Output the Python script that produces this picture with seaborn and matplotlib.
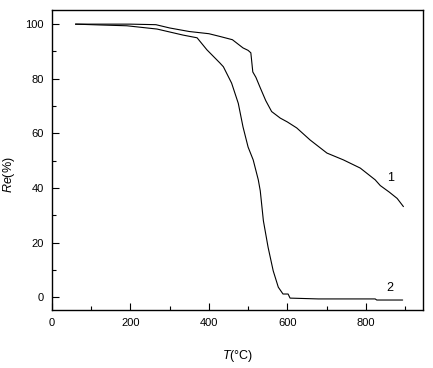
import numpy as np
import pandas as pd
import matplotlib
matplotlib.use("Agg")
import matplotlib.pyplot as plt
import seaborn as sns
from matplotlib.ticker import MultipleLocator

# Curve 1
t1 = [60, 100, 150, 200, 265, 300, 350, 400, 428, 460, 487, 500, 507, 512, 520, 531, 545, 560, 582, 600,
      624, 658, 701, 743, 786, 824, 837, 860, 880, 896]
r1 = [100, 100, 100, 100, 99.8, 98.6, 97.3, 96.5, 95.5, 94.3, 91.3, 90.4, 89.5, 82.5, 80.5, 76.7, 72.0, 68.0,
      65.6, 64.2, 62.0, 57.6, 52.8, 50.3, 47.3, 43.0, 40.9, 38.5, 36.2, 33.2]
# Curve 2
t2 = [60, 122, 191, 268, 334, 370, 395, 428, 437, 458, 475, 487, 500, 513, 526, 531, 539, 551, 564, 577,
      589, 602, 607, 679, 824, 828, 894]
r2 = [100, 99.7, 99.4, 98.2, 96.0, 95.0, 90.6, 85.8, 84.4, 78.4, 71.0, 62.4, 55.0, 50.3, 43.0, 39.0, 28.0,
      18.3, 9.7, 3.7, 1.2, 1.2, -0.3, -0.6, -0.6, -1.0, -1.0]
curve_labels = ["1", "2"]

df = pd.concat([
    pd.DataFrame({"T": t1, "Re": r1, "curve": curve_labels[0]}),
    pd.DataFrame({"T": t2, "Re": r2, "curve": curve_labels[1]}),
])

sns.set_style("ticks")
plt.rcParams['font.family'] = ['Liberation Sans', 'DejaVu Sans']
plt.rcParams['mathtext.fontset'] = 'custom'
plt.rcParams['mathtext.it'] = 'Liberation Sans:italic'
plt.rcParams['mathtext.rm'] = 'Liberation Sans'
plt.rcParams['text.color'] = 'black'
plt.rcParams['axes.labelcolor'] = 'black'
plt.rcParams['xtick.color'] = 'black'
plt.rcParams['ytick.color'] = 'black'

fig = plt.figure(figsize=(4.33, 3.68), dpi=100)
ax = fig.add_axes([0.120, 0.158, 0.857, 0.815])

sns.lineplot(data=df, x="T", y="Re", units="curve", estimator=None, color="black",
             linewidth=0.8, ax=ax, sort=False)

ax.set_xlim(0, 946)
ax.set_ylim(-4.6, 105.2)
ax.xaxis.set_major_locator(MultipleLocator(200))
ax.xaxis.set_minor_locator(MultipleLocator(100))
ax.yaxis.set_major_locator(MultipleLocator(20))
ax.yaxis.set_minor_locator(MultipleLocator(10))
ax.tick_params(which="both", direction="in", top=False, right=False, labelsize=8, width=0.8, pad=6)
ax.tick_params(which="major", length=5)
ax.tick_params(which="minor", length=3)
for s in ax.spines.values():
    s.set_linewidth(1.0)
    s.set_color("black")

ax.set_xlabel(r"$T$(°C)", fontsize=9, labelpad=14)
ax.set_ylabel(r"$Re$(%)", fontsize=9, labelpad=3)
ax.yaxis.set_label_coords(-0.095, 0.45)

ax.text(862, 43.7, curve_labels[0], fontsize=9, ha="center", va="center")
ax.text(862, 3.4, curve_labels[1], fontsize=9, ha="center", va="center")

fig.savefig("out.png", dpi=100)
